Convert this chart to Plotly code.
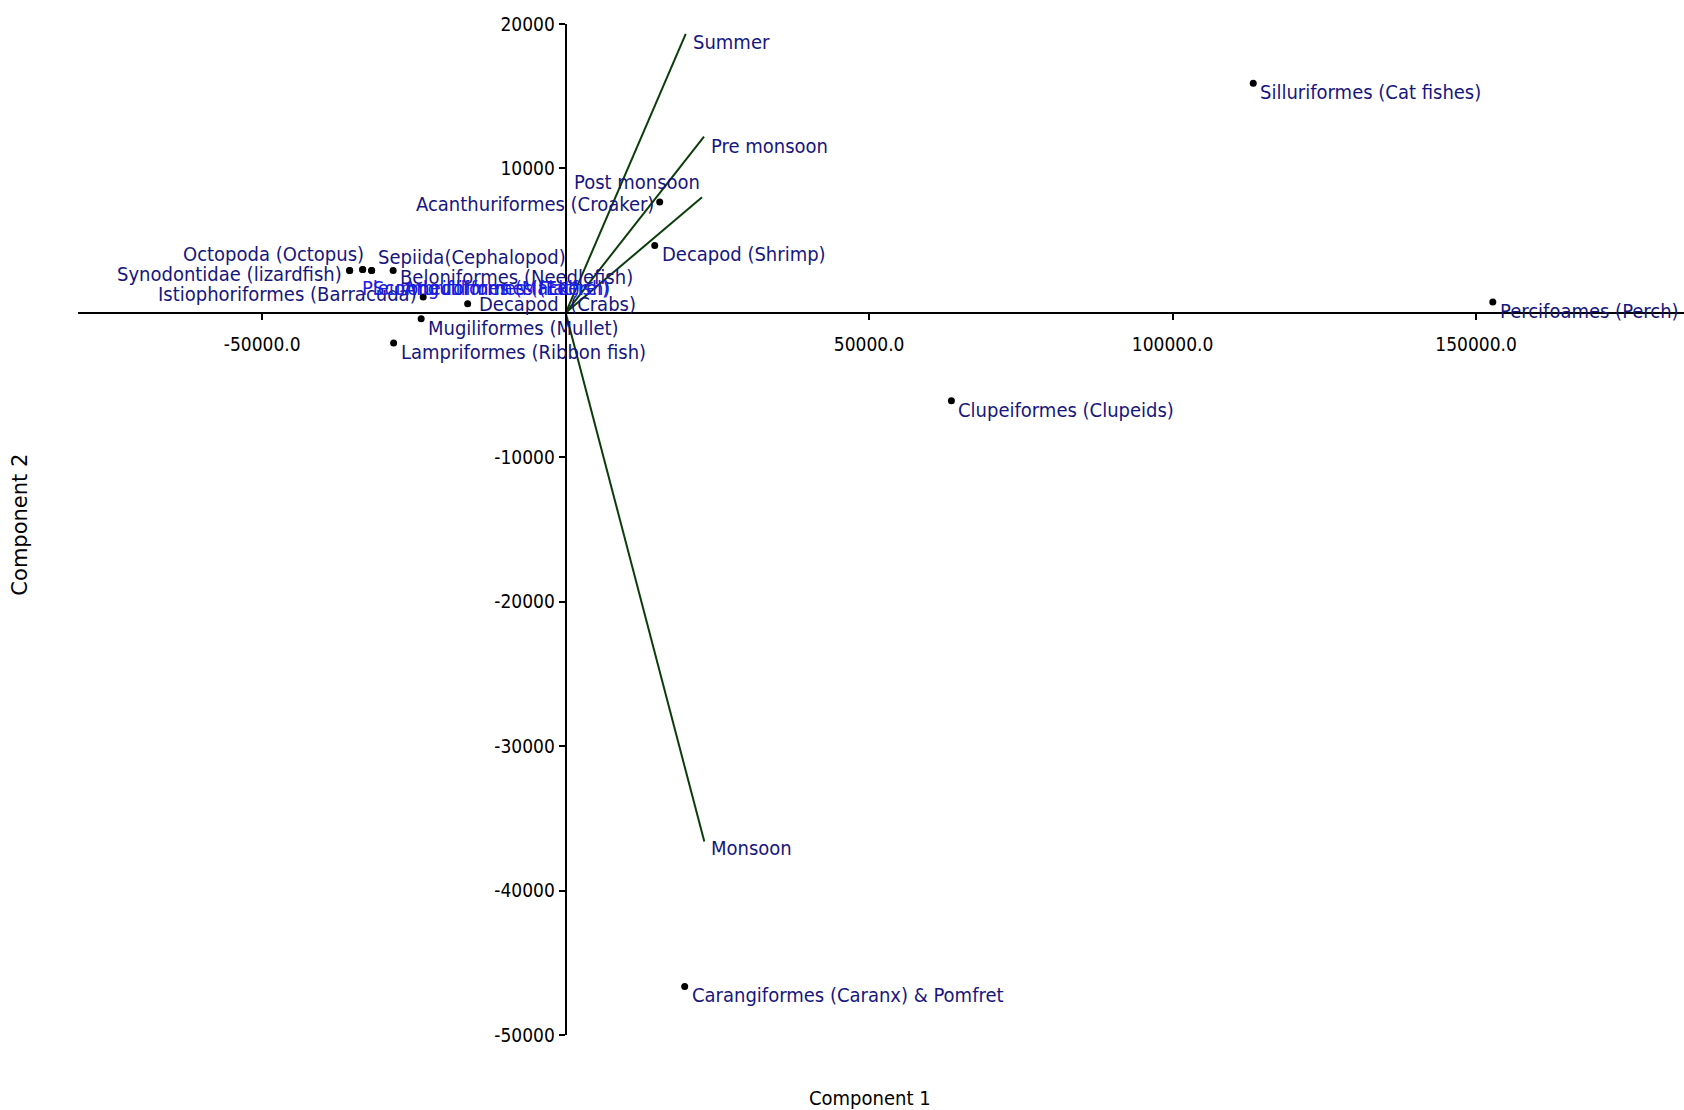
import plotly.graph_objects as go

# ---- data ----
species = [
    "Silluriformes (Cat fishes)",
    "Percifoames (Perch)",
    "Clupeiformes (Clupeids)",
    "Carangiformes (Caranx) & Pomfret",
    "Acanthuriformes (Croaker)",
    "Decapod (Shrimp)",
    "Decapod  (Crabs)",
    "Mugiliformes (Mullet)",
    "Lampriformes (Ribbon fish)",
    "Synodontidae (lizardfish)",
    "Octopoda (Octopus)",
    "Sepiida(Cephalopod)",
    "Beloniformes (Needlefish)",
    "Istiophoriformes (Barracuda)",
    "Pleuronectiformes (Flatfish)",
    "Scombriformes (Mackerel)",
    "Anguilliformes (Eel)",
]
comp1 = [113280, 152750, 63550, 19610, 15490, 14670, -16150, -23810, -28350,
         -35600, -33450, -31970, -28430, -23480, -35600, -33450, -31970]
comp2 = [15900, 750, -6090, -46640, 7670, 4670, 630, -400, -2090,
         2940, 3010, 2940, 2940, 1100, 2940, 3010, 2940]

seasons = ["Summer", "Pre monsoon", "Post monsoon", "Monsoon"]
load1 = [19780, 22790, 22460, 22840]
load2 = [19310, 12210, 8010, -36610]

x_ticks = [-50000, 50000, 100000, 150000]
x_tick_text = ["-50000.0", "50000.0", "100000.0", "150000.0"]
y_ticks = [20000, 10000, -10000, -20000, -30000, -40000, -50000]
y_tick_text = ["20000", "10000", "-10000", "-20000", "-30000", "-40000", "-50000"]

# ---- label placement (pixels) ----
sp_place = {
    "Acanthuriformes (Croaker)": ("right", -4, -2),
    "Synodontidae (lizardfish)": ("right", -6, -4),
    "Octopoda (Octopus)": ("right", 3, 15),
    "Sepiida(Cephalopod)": ("left", 4, 13),
    "Beloniformes (Needlefish)": ("left", 5, -7),
    "Istiophoriformes (Barracuda)": ("right", -4, 3),
    "Decapod  (Crabs)": ("left", 9, 0),
    "Pleuronectiformes (Flatfish)": ("left", 10, -18),
    "Scombriformes (Mackerel)": ("left", 8, -19),
    "Anguilliformes (Eel)": ("left", 30, -18),
}
hidden = {"Pleuronectiformes (Flatfish)", "Scombriformes (Mackerel)", "Anguilliformes (Eel)"}
se_place = {
    "Summer": ("left", 5, -8),
    "Pre monsoon": ("left", 5, -9),
    "Post monsoon": ("right", 0, 15),
    "Monsoon": ("left", 5, -6),
}

FONT = "DejaVu Sans Condensed, Liberation Sans Narrow, Arial Narrow, sans-serif"
LABEL_COL = "#16167e"
LINE_COL = "#0b3d0b"

fig = go.Figure()

for s, lx, ly in zip(seasons, load1, load2):
    fig.add_trace(go.Scatter(x=[0, lx], y=[0, ly], mode="lines",
                             line=dict(color=LINE_COL, width=2),
                             showlegend=False, hoverinfo="skip"))

fig.add_trace(go.Scatter(x=comp1, y=comp2, mode="markers",
                         marker=dict(color="black", size=7),
                         showlegend=False, text=species))

annotations = []
for name, x, y in zip(species, comp1, comp2):
    anchor, dx, dy = sp_place.get(name, ("left", 5, -9))
    col = "#1c1ce0" if name in hidden else LABEL_COL
    annotations.append(dict(x=x, y=y, xref="x", yref="y", text=name,
                            showarrow=False, xanchor=anchor, yanchor="middle",
                            xshift=dx, yshift=dy,
                            font=dict(family=FONT, size=20, color=col)))
for name, x, y in zip(seasons, load1, load2):
    anchor, dx, dy = se_place[name]
    annotations.append(dict(x=x, y=y, xref="x", yref="y", text=name,
                            showarrow=False, xanchor=anchor, yanchor="middle",
                            xshift=dx, yshift=dy,
                            font=dict(family=FONT, size=20, color=LABEL_COL)))

annotations.append(dict(x=0.493, y=-0.062, xref="paper", yref="paper",
                        text="Component 1", showarrow=False,
                        xanchor="center", yanchor="middle",
                        font=dict(family=FONT, size=20, color="black")))
annotations.append(dict(x=-0.036, y=0.505, xref="paper", yref="paper",
                        text="Component 2", showarrow=False, textangle=-90,
                        xanchor="center", yanchor="middle",
                        font=dict(family="DejaVu Sans, sans-serif", size=21, color="black")))

xmin, xmax = -80350, 184250
ymin, ymax = -50000, 20000

fig.update_layout(
    width=1684, height=1110,
    margin=dict(l=78, r=0, t=24, b=75),
    paper_bgcolor="white", plot_bgcolor="white",
    font=dict(family=FONT, size=19, color="black"),
    annotations=annotations,
    xaxis=dict(range=[xmin, xmax], showgrid=False, zeroline=False,
               showline=True, linecolor="black", linewidth=2,
               anchor="free", position=(0 - ymin) / (ymax - ymin),
               ticks="outside", ticklen=6, tickwidth=2, tickcolor="black",
               tickvals=x_ticks, ticktext=x_tick_text,
               ticklabelstandoff=8,
               tickfont=dict(family=FONT, size=19, color="black")),
    yaxis=dict(range=[ymin, ymax], showgrid=False, zeroline=False,
               showline=True, linecolor="black", linewidth=2,
               anchor="free", position=(0 - xmin) / (xmax - xmin),
               ticks="outside", ticklen=6, tickwidth=2, tickcolor="black",
               tickvals=y_ticks, ticktext=y_tick_text,
               tickfont=dict(family=FONT, size=19, color="black")),
)

fig.write_html("out.html")
